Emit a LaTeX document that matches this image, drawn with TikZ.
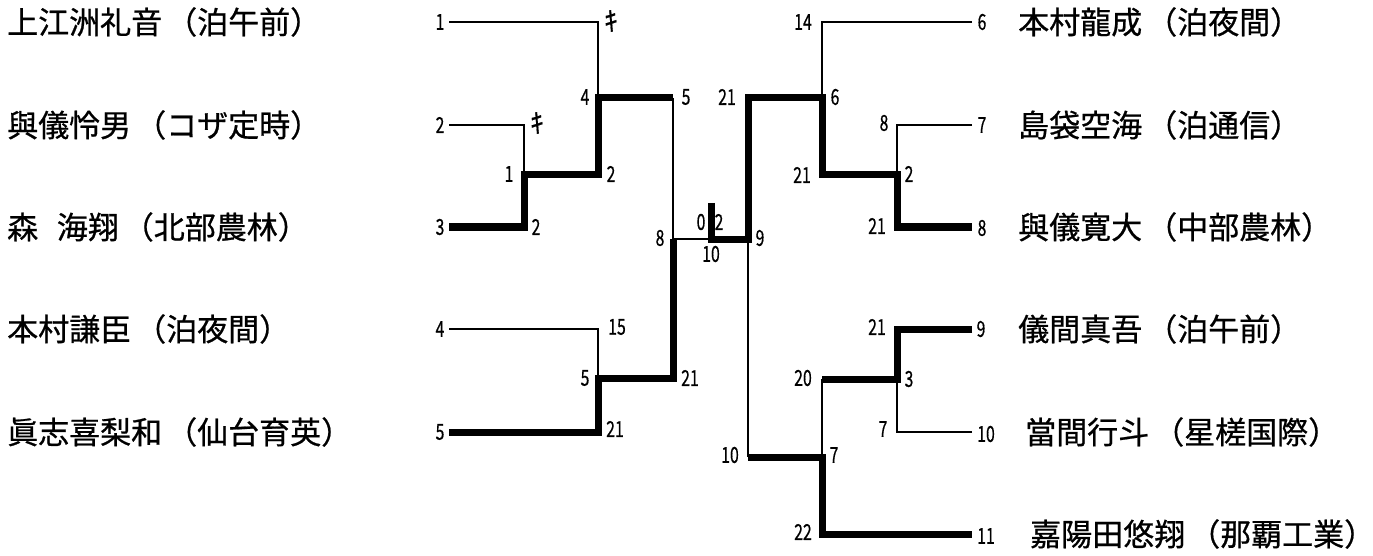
\documentclass[tikz,border=0pt]{standalone}
\usepackage{fontspec}
\setmainfont{Noto Sans CJK JP}
\newfontfamily\jpname{Noto Sans CJK JP}[FakeBold=0.7]
\newfontfamily\jpnum{Noto Sans CJK JP}[FakeBold=0.6]
\begin{document}
\begin{tikzpicture}[x=1pt,y=-1pt,
  lose/.style={line width=1.3pt},
  won/.style={line width=7pt},
  pname/.style={anchor=west,inner sep=0pt,font=\jpname\fontsize{31}{32}\selectfont},
  num/.style={inner sep=0pt,font=\jpnum\fontsize{22}{23}\selectfont},
  kmark/.style={inner sep=0pt,font=\jpnum\fontsize{27}{28}\selectfont}]
\useasboundingbox (0,0) rectangle (1373,556);
% ---------- coordinates (left) ----------
\coordinate (a1) at (449,22);  \coordinate (b1) at (598,22);
\coordinate (a2) at (449,125); \coordinate (b2) at (524,125);
\coordinate (a3) at (449,227); \coordinate (b3) at (524,227);
\coordinate (m12) at (524,175); \coordinate (n12) at (598,175);
\coordinate (q1) at (598,98);  \coordinate (q1r) at (673,98);
\coordinate (a4) at (449,329); \coordinate (b4) at (598,329);
\coordinate (a5) at (449,432); \coordinate (b5) at (598,432);
\coordinate (m45) at (598,378); \coordinate (n45) at (673,378);
\coordinate (cL) at (673,239); \coordinate (cM) at (711,239);
\coordinate (cT) at (711,203); \coordinate (cR) at (748,239);
% ---------- coordinates (right) ----------
\coordinate (rq) at (748,98);  \coordinate (rq1) at (822,98);
\coordinate (r6a) at (972,22); \coordinate (r6b) at (822,22);
\coordinate (r7a) at (972,125); \coordinate (r7b) at (897,125);
\coordinate (r8a) at (972,227); \coordinate (r8b) at (897,227);
\coordinate (rm78) at (897,175); \coordinate (rn78) at (822,175);
\coordinate (r9a) at (972,329); \coordinate (r9b) at (897,329);
\coordinate (r10a) at (972,432); \coordinate (r10b) at (897,432);
\coordinate (rm910) at (897,379); \coordinate (rn910) at (822,379);
\coordinate (rb) at (748,457); \coordinate (rb1) at (822,457);
\coordinate (r11a) at (972,534); \coordinate (r11b) at (822,534);
% ---------- lines (left) ----------
\draw[lose] (a1) -- (b1) -- (q1);
\draw[lose] (a2) -- (b2) -- (m12);
\draw[won] (a3) -- (b3) -- (m12) -- (n12) -- (q1) -- (q1r);
\draw[lose] (q1r) -- (cL);
\draw[lose] (a4) -- (b4) -- (m45);
\draw[won] (a5) -- (b5) -- (m45) -- (n45) -- (cL);
\draw[lose] (cL) -- (cM);
% ---------- lines (right) ----------
\draw[won] (cT) -- (cM) -- (cR) -- (rq) -- (rq1) -- (rn78) -- (rm78) -- (r8b) -- (r8a);
\draw[lose] (r6a) -- (r6b) -- (rq1);
\draw[lose] (r7a) -- (r7b) -- (rm78);
\draw[lose] (cR) -- (rb);
\draw[won] (r9a) -- (r9b) -- (rm910) -- (rn910);
\draw[lose] (r10a) -- (r10b) -- (rm910);
\draw[lose] (rn910) -- (rb1);
\draw[won] (rb) -- (rb1) -- (r11b) -- (r11a);
% ---------- names ----------
\newcommand\pp{\hspace{4pt}}
\node[pname] (p1) at (7,22) {上江洲礼音\pp（泊午前）};
\node[pname] (p2) at (7,125) {與儀怜男\pp（コザ定時）};
\node[pname] (p3) at (7,227) {森\hspace{0.6em}海翔\pp（北部農林）};
\node[pname] (p4) at (7,329) {本村謙臣\pp（泊夜間）};
\node[pname] (p5) at (7,432) {眞志喜梨和\pp（仙台育英）};
\node[pname] (p6) at (1018,22) {本村龍成\pp（泊夜間）};
\node[pname] (p7) at (1018,125) {島袋空海\pp（泊通信）};
\node[pname] (p8) at (1018,227) {與儀寛大\pp（中部農林）};
\node[pname] (p9) at (1018,329) {儀間真吾\pp（泊午前）};
\node[pname] (p10) at (1025,432) {當間行斗\pp（星槎国際）};
\node[pname] (p11) at (1030,534) {嘉陽田悠翔\pp（那覇工業）};
% ---------- numbers (left) ----------
\newcommand\nn[1]{\scalebox{0.72}[1]{#1}}
\node[num] (s1) at (440,22) {\nn{1}};
\node[num] (s2) at (440,125) {\nn{2}};
\node[num] (s3) at (440,227) {\nn{3}};
\node[num] (s4) at (440,329) {\nn{4}};
\node[num] (s5) at (440,432) {\nn{5}};
\node[kmark] (k1) at (611,21) {ｷ};
\node[kmark] (k2) at (537,123) {ｷ};
\node[num] (t1) at (509,174) {\nn{1}};
\node[num] (t2) at (536,227) {\nn{2}};
\node[num] (t3) at (585,97) {\nn{4}};
\node[num] (t4) at (611,174) {\nn{2}};
\node[num] (t5) at (686,97) {\nn{5}};
\node[num] (t6) at (617,327) {\nn{15}};
\node[num] (t7) at (585,378) {\nn{5}};
\node[num] (t8) at (690,378) {\nn{21}};
\node[num] (t9) at (615,429) {\nn{21}};
\node[num] (t10) at (660,238) {\nn{8}};
\node[num] (f1) at (701,222) {\nn{0}};
\node[num] (f2) at (719,222) {\nn{2}};
\node[num] (f3) at (711,254) {\nn{10}};
\node[num] (f4) at (760,238) {\nn{9}};
% ---------- numbers (right) ----------
\node[num] (u1) at (727,97) {\nn{21}};
\node[num] (u2) at (835,97) {\nn{6}};
\node[num] (u3) at (803,22) {\nn{14}};
\node[num] (e6) at (982,22) {\nn{6}};
\node[num] (u4) at (802,175) {\nn{21}};
\node[num] (u5) at (909,174) {\nn{2}};
\node[num] (u6) at (884,123) {\nn{8}};
\node[num] (e7) at (982,125) {\nn{7}};
\node[num] (u7) at (877,226) {\nn{21}};
\node[num] (e8) at (982,228) {\nn{8}};
\node[num] (u8) at (877,327) {\nn{21}};
\node[num] (e9) at (981,329) {\nn{9}};
\node[num] (u9) at (909,379) {\nn{3}};
\node[num] (u10) at (803,378) {\nn{20}};
\node[num] (u11) at (883,429) {\nn{7}};
\node[num] (e10) at (986,434) {\nn{10}};
\node[num] (u12) at (834,455) {\nn{7}};
\node[num] (u13) at (730,455) {\nn{10}};
\node[num] (u14) at (803,532) {\nn{22}};
\node[num] (e11) at (986,536) {\nn{11}};
\end{tikzpicture}
\end{document}
